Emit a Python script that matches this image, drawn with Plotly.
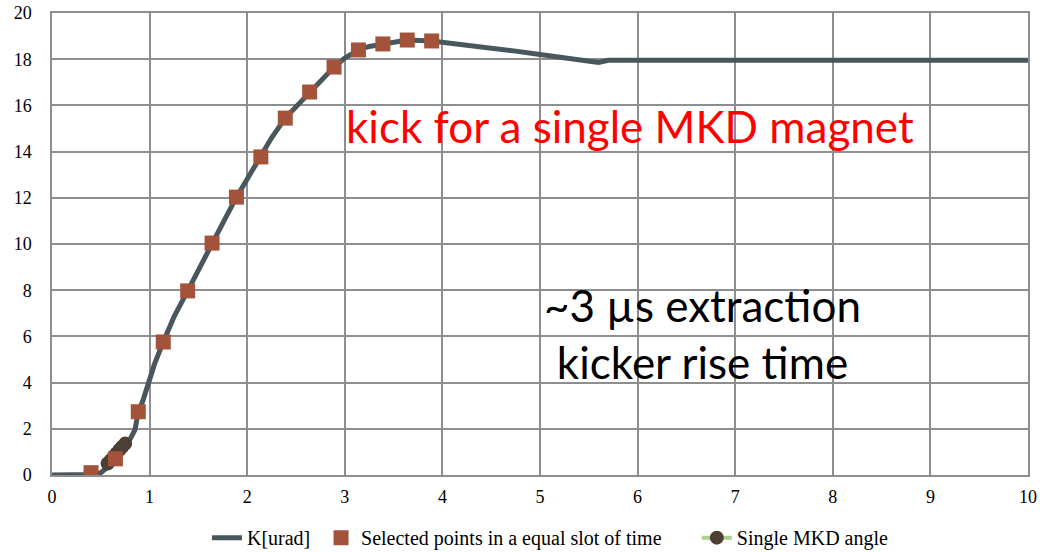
import plotly.graph_objects as go

# Kicker waveform K[urad] versus time [us]
curve_t = [0.0, 0.3, 0.45, 0.5, 0.55, 0.6, 0.65, 0.7, 0.75, 0.8, 0.85, 0.884, 0.93, 1.0, 1.05,
           1.14, 1.25, 1.39, 1.5, 1.64, 1.75, 1.89, 2.0, 2.14, 2.25, 2.39, 2.5, 2.64,
           2.75, 2.89, 3.0, 3.14, 3.25, 3.39, 3.5, 3.64, 3.89, 4.0, 4.25, 4.5, 4.75,
           5.0, 5.25, 5.5, 5.6, 5.7, 6.0, 7.0, 8.0, 9.0, 10.0]
curve_k = [0.0, 0.0, 0.02, 0.1, 0.25, 0.45, 0.7, 1.0, 1.3, 1.55, 1.95, 2.74, 3.2, 4.1, 4.8,
           5.76, 6.85, 7.97, 8.9, 10.04, 10.9, 12.03, 12.8, 13.77, 14.6, 15.45, 15.95, 16.58,
           17.05, 17.66, 18.05, 18.4, 18.55, 18.66, 18.75, 18.83, 18.79, 18.74, 18.62, 18.5, 18.35,
           18.2, 18.05, 17.9, 17.86, 17.95, 17.95, 17.95, 17.95, 17.95, 17.95]

# Samples taken at equal time slots
sel_t = [0.40, 0.65, 0.884, 1.14, 1.39, 1.64, 1.89, 2.14, 2.39, 2.64, 2.89, 3.14, 3.39, 3.64, 3.89]
sel_k = [0.1, 0.7, 2.74, 5.76, 7.97, 10.04, 12.03, 13.77, 15.45, 16.58, 17.66, 18.4, 18.66, 18.83, 18.79]

# Single MKD deflection angle
mkd_t = [0.57, 0.60, 0.63, 0.66, 0.69, 0.72, 0.75]
mkd_k = [0.5, 0.63, 0.78, 0.93, 1.08, 1.22, 1.36]

x_ticks = [0, 1, 2, 3, 4, 5, 6, 7, 8, 9, 10]
y_ticks = [0, 2, 4, 6, 8, 10, 12, 14, 16, 18, 20]

serif = "Liberation Serif"
grid = "#8e8e8e"

fig = go.Figure()
fig.add_trace(go.Scatter(
    x=curve_t, y=curve_k, mode="lines", name="K[urad]",
    line=dict(color="#48565d", width=5), legend="legend"))
fig.add_trace(go.Scatter(
    x=mkd_t, y=mkd_k, mode="lines+markers", name="Single MKD angle",
    line=dict(color="#a9d18e", width=4),
    marker=dict(color="#4d3f33", size=14, symbol="circle"), legend="legend3"))
fig.add_trace(go.Scatter(
    x=sel_t, y=sel_k, mode="markers", name="Selected points in a equal slot of time",
    marker=dict(color="#a3533a", size=15, symbol="square"), legend="legend2"))

fig.add_annotation(x=5.917, y=15.09, xref="x", yref="y", showarrow=False,
                   text="kick for a single MKD magnet",
                   font=dict(family="Lato", size=44, color="#ff0000"))
fig.add_annotation(x=6.67, y=6.13, xref="x", yref="y", showarrow=False,
                   text="~3 µs extraction<br>kicker rise time",
                   font=dict(family="Lato", size=44, color="#000000"))

legend_common = dict(orientation="h", xref="container", yref="container",
                     yanchor="middle", y=0.026, xanchor="left",
                     bgcolor="rgba(0,0,0,0)", font=dict(family=serif, size=20, color="#000"))

fig.update_layout(
    width=1040, height=552,
    margin=dict(l=52, r=12, t=13, b=77, autoexpand=False),
    paper_bgcolor="white", plot_bgcolor="white",
    xaxis=dict(range=[0, 10], tickvals=x_ticks, showgrid=True, gridcolor=grid, gridwidth=1.5,
               showline=True, linecolor=grid, linewidth=1.5, mirror=True, zeroline=False,
               automargin=False, ticks="", ticklabelstandoff=5,
               tickfont=dict(family=serif, size=18, color="#000")),
    yaxis=dict(range=[0, 20], tickvals=y_ticks, showgrid=True, gridcolor=grid, gridwidth=1.5,
               showline=True, linecolor=grid, linewidth=1.5, mirror=True, zeroline=False,
               automargin=False, ticks="", ticklabelstandoff=15,
               tickfont=dict(family=serif, size=18, color="#000")),
    legend=dict(legend_common, x=0.199),
    legend2=dict(legend_common, x=0.3087),
    legend3=dict(legend_common, x=0.670),
    showlegend=True,
)

fig.write_html("out.html")
